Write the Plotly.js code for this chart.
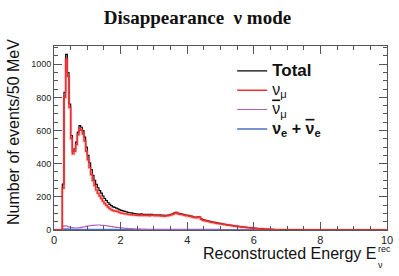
<!DOCTYPE html>
<html><head><meta charset="utf-8">
<script src="https://cdn.plot.ly/plotly-3.0.1.min.js"></script>
<style>html,body{margin:0;padding:0;background:#fff;}</style>
</head><body>
<div id="chart" style="width:399px;height:276px;"></div>
<script>
// Histogram: 50 MeV bins from 0 to 10 GeV
const binWidth = 0.05;
const nBins = 200;

const total = [
0,0,0,0,0,
277,830,1060,950,760,570,475,490,530,590,630,620,600,560,500,
450,405,365,330,300,275,255,238,222,205,190,178,166,155,147,140,136,132,128,122,
118,115,112,110,106,104,103,100,99,97,96,94,97,93,95,92,94,91,95,92,
90,92,89,91,88,90,87,89,90,92,95,98,104,107,102,99,97,95,92,90,
88,86,84,80,78,76,80,78,68,62,60,57,55,52,50,48,46,44,42,40,
38,36,34,32,31,29,28,26,25,24,22,21,19,18,17,16,15,14,13,12,
11,10,9,8,8,7,6,6,5,5,4,4,3,3,3,2,2,2,2,2,
1,1,1,1,1,1,1,1,1,1,0,0,0,0,0,0,0,0,0,0,
0,0,0,0,0,0,0,0,0,0,0,0,0,0,0,0,0,0,0,0,
0,0,0,0,0,0,0,0,0,0,0,0,0,0,0,0,0,0,0,0
];

const numu = [
0,0,0,0,0,
252,800,1030,926,739,552,459,475,515,574,613,601,579,537,475,
423,376,335,299,268,242,222,205,190,174,160,149,139,130,123,118,115,113,110,105,
102,100,98,97,94,93,92,90,90,88,89,87,91,87,89,87,89,86,90,88,
86,88,85,87,84,86,83,85,86,88,91,94,100,103,98,95,93,91,88,86,
85,83,81,77,75,73,77,75,65,59,57,54,52,49,47,45,43,41,39,37,
37,35,33,31,30,28,27,25,24,23,21,20,18,17,16,15,14,13,12,11,
10,9,8,7,7,6,5,5,4,4,3,3,2,2,2,1,1,1,1,1,
1,1,1,1,1,1,1,1,0,0,0,0,0,0,0,0,0,0,0,0,
0,0,0,0,0,0,0,0,0,0,0,0,0,0,0,0,0,0,0,0,
0,0,0,0,0,0,0,0,0,0,0,0,0,0,0,0,0,0,0,0
];

const numubar = [
0,0,0,0,0,
22,26,24,20,17,15,13,12,12,13,14,16,18,20,22,
24,26,27,28,29,30,30,30,29,28,27,26,24,22,21,19,18,16,15,14,
13,12,11,10,9,8,8,7,6,6,5,5,4,4,4,3,3,3,3,2,
2,2,2,2,2,2,2,2,2,2,2,2,2,2,2,2,2,2,2,2,
1,1,1,1,1,1,1,1,1,1,1,1,1,1,1,1,1,1,1,1,
0,0,0,0,0,0,0,0,0,0,0,0,0,0,0,0,0,0,0,0,
0,0,0,0,0,0,0,0,0,0,0,0,0,0,0,0,0,0,0,0,
0,0,0,0,0,0,0,0,0,0,0,0,0,0,0,0,0,0,0,0,
0,0,0,0,0,0,0,0,0,0,0,0,0,0,0,0,0,0,0,0,
0,0,0,0,0,0,0,0,0,0,0,0,0,0,0,0,0,0,0,0
];

const nue = [
0,0,0,0,0,
3,5,5,4,4,3,3,3,3,3,3,3,3,3,3,
3,3,3,3,3,3,3,3,3,3,3,3,3,3,3,3,3,3,3,3,
2,2,2,2,2,2,2,2,2,2,2,2,2,2,2,2,2,2,2,2,
2,2,2,2,2,2,2,2,2,2,2,2,2,2,2,2,2,2,2,2,
2,2,2,2,2,2,2,2,2,2,2,2,2,2,2,2,2,2,2,2,
1,1,1,1,1,1,1,1,1,1,1,1,1,1,1,1,1,1,1,1,
1,1,1,1,1,1,1,1,1,1,1,1,1,1,1,1,1,1,1,1,
0,0,0,0,0,0,0,0,0,0,0,0,0,0,0,0,0,0,0,0,
0,0,0,0,0,0,0,0,0,0,0,0,0,0,0,0,0,0,0,0,
0,0,0,0,0,0,0,0,0,0,0,0,0,0,0,0,0,0,0,0
];

const xTickVals = [0,2,4,6,8,10];
const yTickVals = [0,200,400,600,800,1000];

const edges = [];
for (let i = 0; i <= nBins; i++) edges.push(+(i*binWidth).toFixed(3));
const stepY = arr => arr.concat([arr[arr.length-1]]);

const OVER = s => '<span style="text-decoration:overline">' + s + '</span>';
const BIG = s => '<span style="font-size:16px">' + s + '</span>';

const traces = [
  {x: edges, y: stepY(nue), type:'scatter', mode:'lines', line:{shape:'hv', color:'#4d6fc4', width:1.6},
   name: BIG('<b>ν<sub>e</sub> + ' + OVER('ν') + '<sub>e</sub></b>'), legendrank:4},
  {x: edges, y: stepY(numubar), type:'scatter', mode:'lines', line:{shape:'hv', color:'#b060c0', width:1.1},
   name: BIG(OVER('ν') + '<sub>μ</sub>'), legendrank:3},
  {x: edges, y: stepY(total), type:'scatter', mode:'lines', line:{shape:'hv', color:'#000000', width:1.2},
   name: '<span style="font-size:17px"><b>Total</b></span>', legendrank:1},
  {x: edges, y: stepY(numu), type:'scatter', mode:'lines', line:{shape:'hv', color:'rgba(255,80,80,0.3)', width:3},
   showlegend:false, hoverinfo:'skip'},
  {x: edges, y: stepY(numu), type:'scatter', mode:'lines', line:{shape:'hv', color:'#f03030', width:1.4},
   name: BIG('ν<sub>μ</sub>'), legendrank:2}
];

const axisCommon = {
  showline:true, linecolor:'#555', linewidth:1, mirror:'ticks',
  ticks:'inside', tickcolor:'#555', showgrid:false, zeroline:false
};

const layout = {
  width:399, height:276,
  margin:{l:54, r:12, t:46, b:46},
  paper_bgcolor:'#fff', plot_bgcolor:'#fff',
  showlegend:true,
  title:{text:'<b>Disappearance\u00a0 ν mode</b>', font:{family:'Liberation Serif', size:19, color:'#111'},
         x:0.495, xref:'container', xanchor:'center', y:0.938, yref:'container', yanchor:'middle'},
  xaxis:Object.assign({}, axisCommon, {
    range:[0,10], tickvals:xTickVals, ticklen:8,
    minor:{dtick:0.5, ticks:'inside', ticklen:4, tickcolor:'#555', showgrid:false},
    tickfont:{family:'Liberation Sans, Arial', size:11, color:'#222'}
  }),
  yaxis:Object.assign({}, axisCommon, {
    range:[0,1110], tickvals:yTickVals, ticklen:8,
    minor:{dtick:50, ticks:'inside', ticklen:4, tickcolor:'#555', showgrid:false},
    tickfont:{family:'Liberation Sans, Arial', size:9, color:'#222'}
  }),
  legend:{x:0.535, y:0.945, xanchor:'left', yanchor:'top', bgcolor:'rgba(0,0,0,0)',
          font:{family:'Liberation Sans, Arial', size:12.6, color:'#111'}, itemwidth:30},
  annotations:[
    {text:'Number of events/50 MeV', textangle:-90, xref:'paper', yref:'paper', x:-0.12, y:0.533,
     xanchor:'center', yanchor:'middle', showarrow:false, font:{family:'Liberation Sans, Arial', size:16, color:'#111'}},
    {text:'Reconstructed Energy E', xref:'paper', yref:'paper', x:0.969, y:-0.130,
     xanchor:'right', yanchor:'middle', showarrow:false, borderpad:0, font:{family:'Liberation Sans, Arial', size:16, color:'#111'}},
    {text:'rec', xref:'paper', yref:'paper', x:0.969, y:-0.103,
     xanchor:'left', yanchor:'middle', showarrow:false, borderpad:0, font:{family:'Liberation Sans, Arial', size:9, color:'#111'}},
    {text:'ν', xref:'paper', yref:'paper', x:0.969, y:-0.188,
     xanchor:'left', yanchor:'middle', showarrow:false, borderpad:0, font:{family:'Liberation Sans, Arial', size:9, color:'#111'}}
  ]
};

Plotly.newPlot('chart', traces, layout, {staticPlot:true, displayModeBar:false});
</script>
</body></html>
